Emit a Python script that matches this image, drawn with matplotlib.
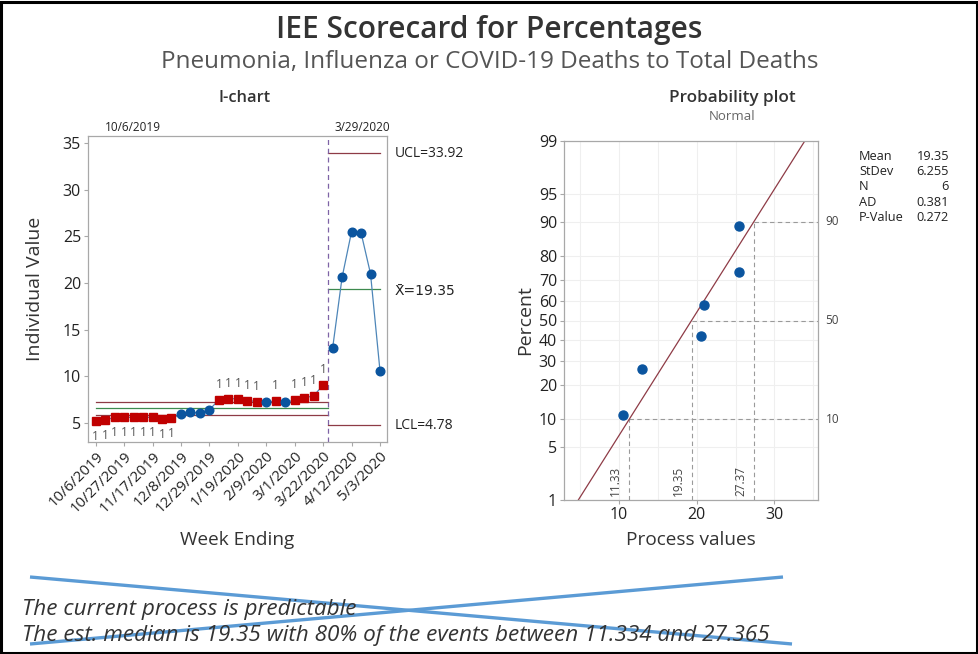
import matplotlib
matplotlib.use('Agg')
import matplotlib.pyplot as plt
from matplotlib.patches import Rectangle
from matplotlib.lines import Line2D
from statistics import NormalDist

plt.rcParams['font.family'] = ['Open Sans', 'DejaVu Sans']

# ---------------- data ----------------
weeks = ['10/6/2019', '10/13/2019', '10/20/2019', '10/27/2019', '11/3/2019', '11/10/2019',
         '11/17/2019', '11/24/2019', '12/1/2019', '12/8/2019', '12/15/2019', '12/22/2019',
         '12/29/2019', '1/5/2020', '1/12/2020', '1/19/2020', '1/26/2020', '2/2/2020',
         '2/9/2020', '2/16/2020', '2/23/2020', '3/1/2020', '3/8/2020', '3/15/2020',
         '3/22/2020', '3/29/2020', '4/5/2020', '4/12/2020', '4/19/2020', '4/26/2020',
         '5/3/2020']
phase1_values = [5.2, 5.3, 5.6, 5.6, 5.6, 5.6, 5.6, 5.4, 5.5,
                 5.95, 6.15, 6.07, 6.4,
                 7.5, 7.6, 7.6, 7.4, 7.3,
                 7.2, 7.4, 7.2,
                 7.46, 7.7, 7.9, 9.07]
phase2_values = [13.0, 20.6, 25.5, 25.4, 21.0, 10.6]
phase1_limits = {'UCL': 7.27, 'CL': 6.6, 'LCL': 5.88}
phase2_limits = {'UCL': 33.92, 'CL': 19.35, 'LCL': 4.78}
fit_mean, fit_sd = 19.35, 6.255
stats_labels = ['Mean', 'StDev', 'N', 'AD', 'P-Value']
stats_values = ['19.35', '6.255', '6', '0.381', '0.272']
pct_ticks = [1, 5, 10, 20, 30, 40, 50, 60, 70, 80, 90, 95, 99]
ref_pcts = [10, 50, 90]
ref_vals = [11.33, 19.35, 27.37]
ichart_yticks = [5, 10, 15, 20, 25, 30, 35]
prob_xticks = [10, 20, 30]

W, H = 979, 654
fig = plt.figure(figsize=(W / 100, H / 100), dpi=100)


def fx(x):
    return x / W


def fy(y):
    return 1 - y / H


def axrect(l, t, r, b):
    return [fx(l), fy(b), (r - l) / W, (b - t) / H]


RED = '#C00000'
BLUE = '#0B559F'
LINEBLUE = '#4E86B8'
MAROON = '#8E3B46'
GREEN = '#3D8A4E'
SPINE = '#A8A8A8'
TXT = '#222222'

# ---------------- titles ----------------
fig.text(0.5, fy(30), 'IEE Scorecard for Percentages', ha='center', va='center',
         fontsize=21.5, fontweight='semibold', color='#333333')
fig.text(0.5, fy(62), 'Pneumonia, Influenza or COVID-19 Deaths to Total Deaths', ha='center',
         va='center', fontsize=17.5, color='#555555')

# ---------------- I-chart ----------------
ax1 = fig.add_axes(axrect(88, 136, 387, 442))
n1 = len(phase1_values)
x1 = list(range(1, n1 + 1))
x2 = list(range(n1 + 1, n1 + len(phase2_values) + 1))
split = n1 + 0.5
xmax = x2[-1]

ax1.plot(x1, phase1_values, color=LINEBLUE, lw=0.9, zorder=2)
ax1.plot(x2, phase2_values, color=LINEBLUE, lw=0.9, zorder=2)

# control limits
ax1.plot([1, split], [phase1_limits['UCL']] * 2, color=MAROON, lw=0.9, zorder=1)
ax1.plot([1, split], [phase1_limits['LCL']] * 2, color=MAROON, lw=0.9, zorder=1)
ax1.plot([1, split], [phase1_limits['CL']] * 2, color=GREEN, lw=0.9, zorder=1)
ax1.plot([split, xmax], [phase2_limits['UCL']] * 2, color=MAROON, lw=0.9, zorder=1)
ax1.plot([split, xmax], [phase2_limits['LCL']] * 2, color=MAROON, lw=0.9, zorder=1)
ax1.plot([split, xmax], [phase2_limits['CL']] * 2, color=GREEN, lw=0.9, zorder=1)
ax1.axvline(split, color='#7E63A6', lw=0.9, ls=(0, (4, 3)), zorder=1)

for xs, vals, lim in [(x1, phase1_values, phase1_limits), (x2, phase2_values, phase2_limits)]:
    for xi, v in zip(xs, vals):
        if v > lim['UCL'] or v < lim['LCL']:
            ax1.plot(xi, v, marker='s', ms=6.2, color=RED, mec=RED, zorder=3)
            off = -11 if v < lim['LCL'] else 11
            ax1.annotate('1', (xi, v), xytext=(0, off), textcoords='offset points',
                         ha='center', va='center', fontsize=8.5, color='#555555')
        else:
            ax1.plot(xi, v, marker='o', ms=6.2, color=BLUE, mec=BLUE, zorder=3)

ax1.set_xlim(0.19, 31.74)
ax1.set_ylim(2.96, 35.76)
ax1.set_yticks(ichart_yticks)
ax1.set_yticklabels([str(t) for t in ichart_yticks], fontsize=11.5, color=TXT)
tick_pos = list(range(1, xmax + 1, 3))
ax1.set_xticks(tick_pos)
ax1.set_xticklabels([weeks[p - 1] for p in tick_pos], rotation=45, ha='right',
                    rotation_mode='anchor', fontsize=10.8, color=TXT)
for s in ax1.spines.values():
    s.set_color(SPINE)
    s.set_linewidth(0.9)
ax1.tick_params(axis='both', color=SPINE, length=3, width=0.8, pad=2)

# stage labels on top
ax1.text(1.98, 1.005, weeks[0], transform=ax1.get_xaxis_transform(), ha='left', va='bottom',
         fontsize=8.5, color=TXT)
ax1.text(26.2, 1.005, weeks[n1], transform=ax1.get_xaxis_transform(), ha='left', va='bottom',
         fontsize=8.5, color=TXT)

# limit labels
ax1.text(1.027, phase2_limits['UCL'], f"UCL={phase2_limits['UCL']:.2f}",
         transform=ax1.get_yaxis_transform(), ha='left', va='center', fontsize=10, color=TXT)
ax1.text(1.027, phase2_limits['CL'] - 0.2, f"X\u0304={phase2_limits['CL']:.2f}",
         transform=ax1.get_yaxis_transform(), ha='left', va='center', fontsize=10, color=TXT,
         family=['DejaVu Sans'])
ax1.text(1.027, phase2_limits['LCL'], f"LCL={phase2_limits['LCL']:.2f}",
         transform=ax1.get_yaxis_transform(), ha='left', va='center', fontsize=10, color=TXT)

fig.text(fx(245), fy(98), 'I-chart', ha='center', va='center', fontsize=11.8,
         fontweight='semibold', color='#333333')
fig.text(fx(35), fy(289), 'Individual Value', ha='center', va='center', rotation=90,
         fontsize=14, color='#333333')
fig.text(fx(237), fy(540), 'Week Ending', ha='center', va='center', fontsize=13.7,
         color='#333333')

# ---------------- Probability plot ----------------
nd = NormalDist()
ax2 = fig.add_axes(axrect(564, 141, 818, 500))
zlo, zhi = nd.inv_cdf(0.01), nd.inv_cdf(0.99)
ax2.set_xlim(2.96, 35.6)
ax2.set_ylim(zlo, zhi)

for gx in range(5, 36, 5):
    ax2.axvline(gx, color='#EFEFEF', lw=0.8, zorder=0)
for p in pct_ticks:
    ax2.axhline(nd.inv_cdf(p / 100), color='#EFEFEF', lw=0.8, zorder=0)

# fitted line
xa = fit_mean + zlo * fit_sd
xb = fit_mean + zhi * fit_sd
ax2.plot([xa, xb], [zlo, zhi], color=MAROON, lw=0.9, zorder=2)

# reference lines
for p, v in zip(ref_pcts, ref_vals):
    z = nd.inv_cdf(p / 100)
    ax2.plot([v, 35.6], [z, z], color='#9A9A9A', lw=0.8, ls=(0, (4, 3)), zorder=1)
    ax2.plot([v, v], [zlo, z], color='#9A9A9A', lw=0.8, ls=(0, (4, 3)), zorder=1)
    ax2.text(1.03, z, str(p), transform=ax2.get_yaxis_transform(), ha='left', va='center',
             fontsize=8.5, color='#444444')
    ax2.annotate(f'{v:.2f}', (v, zlo), xytext=(-5, 3), textcoords='offset points',
                 rotation=90, ha='right', va='bottom', fontsize=8.5, color='#444444')

# points
sorted_vals = sorted(phase2_values)
n = len(sorted_vals)
zs = [nd.inv_cdf((i + 1 - 0.3) / (n + 0.4)) for i in range(n)]
ax2.plot(sorted_vals, zs, 'o', ms=6.5, color=BLUE, mec=BLUE, zorder=3)

ax2.set_yticks([nd.inv_cdf(p / 100) for p in pct_ticks])
ax2.set_yticklabels([str(p) for p in pct_ticks], fontsize=11.5, color=TXT)
ax2.set_xticks(prob_xticks)
ax2.set_xticklabels([str(t) for t in prob_xticks], fontsize=11.5, color=TXT)
for s in ax2.spines.values():
    s.set_color(SPINE)
    s.set_linewidth(0.9)
ax2.tick_params(axis='both', color=SPINE, length=3, width=0.8, pad=2)

fig.text(fx(732), fy(98), 'Probability plot', ha='center', va='center', fontsize=12.3,
         fontweight='semibold', color='#333333')
fig.text(fx(732), fy(116), 'Normal', ha='center', va='center', fontsize=9.5,
         color='#666666')
fig.text(fx(525), fy(320), 'Percent', ha='center', va='center', rotation=90,
         fontsize=14, color='#333333')
fig.text(fx(691), fy(540), 'Process values', ha='center', va='center', fontsize=13.7,
         color='#333333')

# stats table
for i, (lab, val) in enumerate(zip(stats_labels, stats_values)):
    yy = 156 + i * 15.5
    fig.text(fx(859), fy(yy), lab, ha='left', va='center', fontsize=9.2, color=TXT)
    fig.text(fx(949), fy(yy), val, ha='right', va='center', fontsize=9.2, color=TXT)

# ---------------- bottom text + cross ----------------
fig.text(fx(22), fy(610), 'The current process is predictable', ha='left', va='center',
         fontsize=16.2, style='italic', color='#333333')
fig.text(fx(22), fy(636),
         'The est. median is 19.35 with 80% of the events between 11.334 and 27.365',
         ha='left', va='center', fontsize=16.2, style='italic', color='#333333')
fig.add_artist(Line2D([fx(30), fx(792)], [fy(577), fy(644)], transform=fig.transFigure,
                      color='#5B9BD5', lw=2.4, solid_capstyle='butt'))
fig.add_artist(Line2D([fx(30), fx(783)], [fy(644), fy(577)], transform=fig.transFigure,
                      color='#5B9BD5', lw=2.4, solid_capstyle='butt'))

# border
fig.add_artist(Rectangle((fx(1.5), fy(652.5)), (W - 3) / W, (H - 3) / H,
                         transform=fig.transFigure, fill=False, ec='black', lw=2.2))

fig.savefig('out.png', dpi=100)
